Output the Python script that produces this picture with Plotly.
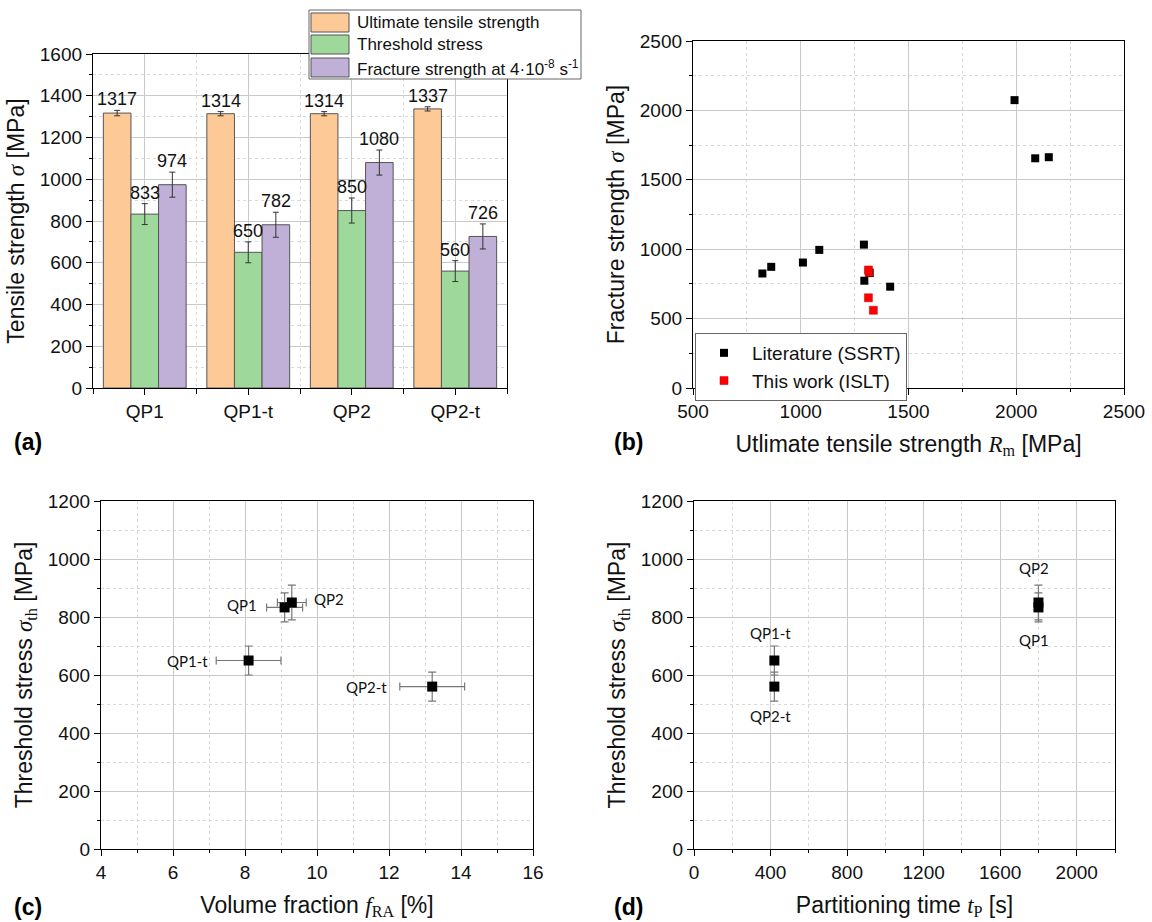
import plotly.graph_objects as go

W, H = 1152, 922

# ---- data -------------------------------------------------------------
samples = ["QP1", "QP1-t", "QP2", "QP2-t"]
uts = [1317, 1314, 1314, 1337]
uts_err = [13, 10, 10, 10]
threshold = [833, 650, 850, 560]
threshold_err = [50, 50, 60, 50]
fracture = [974, 782, 1080, 726]
fracture_err = [60, 60, 60, 60]

lit_uts = [822, 863, 1010, 1086, 1293, 1295, 1320, 1415, 1992, 2088, 2151]
lit_frac = [825, 873, 904, 995, 1033, 773, 828, 730, 2074, 1655, 1663]

ra_fraction = [9.1, 8.1, 9.3, 13.2]
ra_fraction_err = [0.5, 0.9, 0.4, 0.9]
partition_time = [1800, 420, 1800, 420]

# label offsets (px) for the sample names in panels (c) and (d)
c_label_shift = [(-26, 2, "right"), (-39, 0, "right"), (20, 4, "left"), (-43, 0, "right")]
d_label_shift = [(-4, -33, "center"), (-4, 28, "center"), (-4, 35, "center"), (-4, -29, "center")]

# ---- styling ----------------------------------------------------------
SANS = "Liberation Sans, Arial, sans-serif"
SERIF = "Liberation Serif, Times New Roman, serif"
LABEL_FONT = "Lato, Open Sans, sans-serif"
C_UTS, C_TH, C_FR = "#FDC997", "#9ED99B", "#C0AFD6"
MAJOR_GRID, MINOR_GRID = "#c9c9c9", "#d9d9d9"


def px_x(px):
    return px / W


def px_y(py):
    return 1 - py / H


def serif(t, italic=True):
    s = f'<span style="font-family:{SERIF}">{t}</span>'
    return f"<i>{s}</i>" if italic else s


def axis_style(rng, dtick, minor_dtick, domain, anchor, title, standoff, tick0=None, **kw):
    d = dict(
        range=rng, dtick=dtick, domain=domain, anchor=anchor,
        showline=True, linecolor="#000", linewidth=1.3, mirror=True,
        ticks="outside", ticklen=6, tickwidth=1.2, tickcolor="#000",
        showgrid=True, gridcolor=MAJOR_GRID, gridwidth=1,
        zeroline=False, automargin=False,
        tickfont=dict(family=SANS, size=19, color="#111"),
        title=dict(text=title, standoff=standoff, font=dict(family=SANS, size=23, color="#111")),
        minor=dict(dtick=minor_dtick, ticks="outside", ticklen=3, tickwidth=1,
                   tickcolor="#000", showgrid=True, gridcolor=MINOR_GRID,
                   griddash="dot", gridwidth=1),
    )
    if tick0 is not None:
        d["tick0"] = tick0
        d["minor"]["tick0"] = tick0
    d.update(kw)
    return d


fig = go.Figure()

# ---- (a) grouped bars -------------------------------------------------
xs = list(range(len(samples)))
bargap = 0.2
bw = (1 - bargap) / 3
offsets = [-bw, 0, bw]
bar_sets = [
    (uts, uts_err, C_UTS, "Ultimate tensile strength"),
    (threshold, threshold_err, C_TH, "Threshold stress"),
    (fracture, fracture_err, C_FR, "Fracture strength at 4·10<sup>-8</sup> s<sup>-1</sup>"),
]
for k, (vals, errs, col, name) in enumerate(bar_sets):
    fig.add_trace(go.Bar(
        x=xs, y=vals, name=name, marker=dict(color=col, line=dict(color="#555", width=1)),
        error_y=dict(type="data", array=errs, color="#333", thickness=1, width=3),
        offsetgroup=str(k), xaxis="x", yaxis="y", showlegend=False,
    ))

annotations = []
for k, (vals, errs, col, name) in enumerate(bar_sets):
    for i, (v, e) in enumerate(zip(vals, errs)):
        annotations.append(dict(
            x=i + offsets[k], y=v + e, xref="x", yref="y", text=str(v),
            showarrow=False, yanchor="bottom", yshift=-1,
            font=dict(family=SANS, size=18, color="#111"),
        ))

# ---- (b) scatter ------------------------------------------------------
fig.add_trace(go.Scatter(
    x=lit_uts, y=lit_frac, mode="markers", name="Literature (SSRT)",
    marker=dict(symbol="square", size=8, color="#000"),
    xaxis="x2", yaxis="y2", legend="legend",
))
fig.add_trace(go.Scatter(
    x=uts, y=threshold, mode="markers", name="This work (ISLT)",
    marker=dict(symbol="square", size=8, color="#ff0000", line=dict(color="#c00000", width=0.5)),
    xaxis="x2", yaxis="y2", legend="legend",
))

# ---- (c) threshold vs volume fraction --------------------------------
fig.add_trace(go.Scatter(
    x=ra_fraction, y=threshold, mode="markers", showlegend=False,
    marker=dict(symbol="square", size=10, color="#000"),
    error_x=dict(type="data", array=ra_fraction_err, color="#777", thickness=1.2, width=4),
    error_y=dict(type="data", array=threshold_err, color="#777", thickness=1.2, width=4),
    xaxis="x3", yaxis="y3",
))
for name, xv, yv, (dx, dy, anc) in zip(samples, ra_fraction, threshold, c_label_shift):
    annotations.append(dict(
        x=xv, y=yv, xref="x3", yref="y3", text=name, showarrow=False,
        xanchor=anc, yanchor="middle", xshift=dx, yshift=dy,
        font=dict(family=LABEL_FONT, size=15, color="#111"),
    ))

# ---- (d) threshold vs partitioning time ------------------------------
fig.add_trace(go.Scatter(
    x=partition_time, y=threshold, mode="markers", showlegend=False,
    marker=dict(symbol="square", size=10, color="#000"),
    error_y=dict(type="data", array=threshold_err, color="#777", thickness=1.2, width=4),
    xaxis="x4", yaxis="y4",
))
for name, xv, yv, (dx, dy, anc) in zip(samples, partition_time, threshold, d_label_shift):
    annotations.append(dict(
        x=xv, y=yv, xref="x4", yref="y4", text=name, showarrow=False,
        xanchor=anc, yanchor="middle", xshift=dx, yshift=dy,
        font=dict(family=LABEL_FONT, size=15, color="#111"),
    ))

# ---- axes ---------------------------------------------------------------
dom_a = ([px_x(93), px_x(507)], [px_y(388), px_y(54)])
dom_b = ([px_x(693), px_x(1124)], [px_y(388), px_y(41)])
dom_c = ([px_x(101), px_x(533)], [px_y(849), px_y(501)])
dom_d = ([px_x(694), px_x(1115)], [px_y(849), px_y(501)])

sigma_th = serif("σ") + "<sub>" + serif("th", False) + "</sub>"

xa = axis_style([-0.5, 3.5], 1, 0.5, dom_a[0], "y", "", 0, tick0=0,
                tickmode="array", tickvals=xs, ticktext=samples)
xa["minor"] = dict(tickmode="array", tickvals=[-0.5, 0.5, 1.5, 2.5, 3.5], ticks="outside",
                   ticklen=5, tickwidth=1, tickcolor="#000", showgrid=True,
                   gridcolor=MINOR_GRID, griddash="dot", gridwidth=1)
fig.update_layout(
    xaxis=xa,
    yaxis=axis_style([0, 1600], 200, 100, dom_a[1], "x",
                     "Tensile strength " + serif("σ") + " [MPa]", 8),
    xaxis2=axis_style([500, 2500], 500, 250, dom_b[0], "y2",
                      "Utlimate tensile strength " + serif("R") + "<sub>" + serif("m", False)
                      + "</sub> [MPa]", 14),
    yaxis2=axis_style([0, 2500], 500, 250, dom_b[1], "x2",
                      "Fracture strength " + serif("σ") + " [MPa]", 8),
    xaxis3=axis_style([4, 16], 2, 1, dom_c[0], "y3",
                      "Volume fraction " + serif("f") + "<sub>" + serif("RA", False) + "</sub> [%]", 14),
    yaxis3=axis_style([0, 1200], 200, 100, dom_c[1], "x3",
                      "Threshold stress " + sigma_th + " [MPa]", 8),
    xaxis4=axis_style([0, 2200], 400, 200, dom_d[0], "y4",
                      "Partitioning time " + serif("t") + "<sub>" + serif("P", False) + "</sub> [s]", 14,
                      tick0=0),
    yaxis4=axis_style([0, 1200], 200, 100, dom_d[1], "x4",
                      "Threshold stress " + sigma_th + " [MPa]", 8),
)

# ---- panel letters ------------------------------------------------------
for x, y, t in [(28, 442, "(a)"), (628, 442, "(b)"), (28, 907, "(c)"), (628, 907, "(d)")]:
    annotations.append(dict(
        x=px_x(x), y=px_y(y), xref="paper", yref="paper", text=f"<b>{t}</b>",
        showarrow=False, xanchor="center", yanchor="middle",
        font=dict(family=SANS, size=23, color="#000"),
    ))

# ---- legend for the bar panel -----------------------------------------
shapes = [dict(type="rect", xref="paper", yref="paper",
               x0=px_x(309), x1=px_x(581), y0=px_y(79), y1=px_y(10),
               line=dict(color="#666", width=1), fillcolor="white", layer="above")]
rows = [(13, 32), (35, 54), (58, 77)]
for (t0, t1), (_, _, col, name) in zip(rows, bar_sets):
    shapes.append(dict(type="rect", xref="paper", yref="paper",
                       x0=px_x(311), x1=px_x(349), y0=px_y(t1), y1=px_y(t0),
                       line=dict(color="#555", width=1), fillcolor=col, layer="above"))
    annotations.append(dict(
        x=px_x(355), y=px_y((t0 + t1) / 2), xref="paper", yref="paper", text=name,
        showarrow=False, xanchor="left", yanchor="middle",
        font=dict(family=SANS, size=17, color="#111"),
    ))

fig.update_layout(
    width=W, height=H, margin=dict(l=0, r=0, t=0, b=0),
    paper_bgcolor="white", plot_bgcolor="white",
    barmode="group", bargap=bargap, bargroupgap=0,
    annotations=annotations, shapes=shapes,
    legend=dict(
        x=px_x(695), y=px_y(333), xanchor="left", yanchor="top",
        bgcolor="white", bordercolor="#666", borderwidth=1,
        font=dict(family=SANS, size=19, color="#111"),
        itemwidth=46, tracegroupgap=0,
    ),
)

fig.write_html("out.html")
